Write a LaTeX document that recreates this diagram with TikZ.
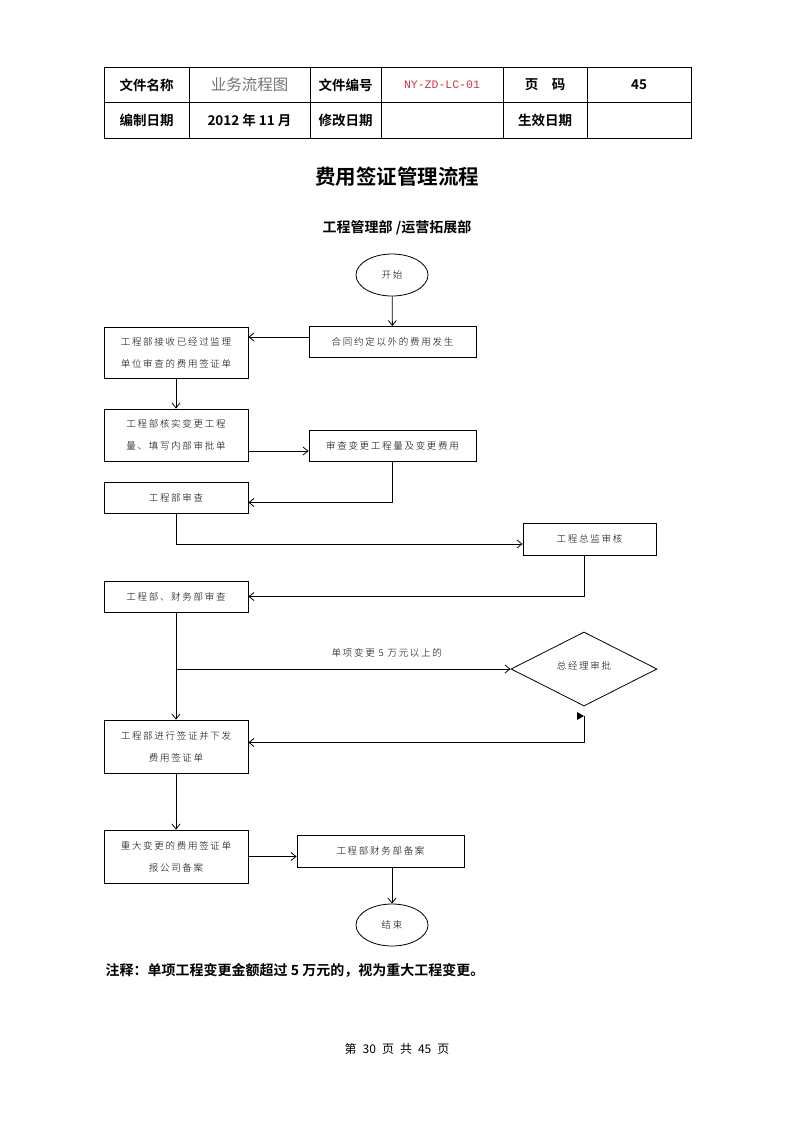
\documentclass[tikz,border=0pt]{standalone}
\usepackage{fontspec}
\setmainfont{Noto Sans CJK SC}[BoldFont={Noto Sans CJK SC Bold}]
\newfontfamily\thin{Noto Sans CJK SC Light}[LetterSpace=18]
\newfontfamily\codefont{Liberation Mono}
\usetikzlibrary{shapes.geometric,arrows.meta}
\definecolor{codered}{RGB}{205,55,65}

\begin{document}
\begin{tikzpicture}[x=1pt,y=-1pt,line width=.8pt,
  box/.style={draw,rectangle,inner sep=0pt,align=center,
    font=\thin\fontsize{9.5}{22}\selectfont},
  lbox/.style={box,minimum width=144pt},
  rbox/.style={box,minimum width=167pt,minimum height=31pt},
  term/.style={draw,ellipse,minimum width=72pt,minimum height=42pt,
    inner sep=0pt,font=\thin\fontsize{9.5}{11}\selectfont},
  hd/.style={font=\bfseries\fontsize{13.5}{14}\selectfont},
  link/.style={-{Straight Barb[length=5pt,width=8pt]}}]
\useasboundingbox (0,0) rectangle (793,1122);

% header table
\draw[line width=1pt] (104,67) rectangle (691,138);
\draw (104,102) -- (691,102);
\foreach \x in {189,310,381,503,587} \draw (\x,67) -- (\x,138);
\node[hd] (h1) at (146.5,85) {文件名称};
\node[text=black!55,font=\fontsize{15.5}{16}\selectfont] (h2) at (249.5,85) {业务流程图};
\node[hd] (h3) at (345.5,85) {文件编号};
\node[text=codered,font=\codefont\fontsize{11.5}{12}\selectfont] (h4) at (442,85) {NY-ZD-LC-01};
\node[hd] (h5) at (545,85) {页\hspace{1em}码};
\node[hd] (h6) at (639,85) {45};
\node[hd] (h7) at (146.5,120) {编制日期};
\node[hd] (h8) at (249.5,120) {2012 年 11 月};
\node[hd] (h9) at (345.5,120) {修改日期};
\node[hd] (h10) at (545,120) {生效日期};

% titles
\node[font=\bfseries\fontsize{20.5}{22}\selectfont] (title) at (397,177) {费用签证管理流程};
\node[font=\bfseries\fontsize{14}{15}\selectfont] (dept) at (397,228) {工程管理部 /运营拓展部};

% flow
\node[term] (start) at (392,275) {开始};
\node[rbox] (hetong) at (392.5,342) {合同约定以外的费用发生};
\node[lbox,minimum height=51pt] (jieshou) at (176,352.5) {工程部接收已经过监理\\单位审查的费用签证单};
\node[lbox,minimum height=52pt] (hexiao) at (176,435) {工程部核实变更工程\\量、填写内部审批单};
\node[rbox] (shencha) at (392.5,446) {审查变更工程量及变更费用};
\node[lbox,minimum height=31pt] (gcsc) at (176,497.5) {工程部审查};
\node[box,minimum width=133pt,minimum height=32pt] (zj) at (589.5,539) {工程总监审核};
\node[lbox,minimum height=31pt] (cw) at (176,596.5) {工程部、财务部审查};
\node[draw,diamond,minimum width=146pt,minimum height=74pt,inner sep=0pt,
  font=\thin\fontsize{9.5}{11}\selectfont] (zjl) at (584,669) {\raisebox{7pt}{总经理审批}};
\node[lbox,minimum height=53pt] (qz) at (176,746.5) {工程部进行签证并下发\\费用签证单};
\node[lbox,minimum height=53pt] (zd) at (176,856.5) {重大变更的费用签证单\\报公司备案};
\node[box,minimum width=167pt,minimum height=32pt] (ba) at (380.5,851) {工程部财务部备案};
\node[term] (end) at (392,925) {结束};
\coordinate (d0) at (584,716);

\draw[link] (start) -- (hetong);
\draw[link] ([yshift=5pt]hetong.west) -- ([yshift=5pt]hetong.west -| jieshou.east);
\draw[link] (jieshou) -- (hexiao);
\draw[link] ([yshift=-5pt]shencha.west -| hexiao.east) -- ([yshift=-5pt]shencha.west);
\draw[link] (shencha.south) |- ([yshift=-5pt]gcsc.east);
\draw[link] (gcsc.south) |- ([yshift=-5pt]zj.west);
\draw[link] ([xshift=-5pt]zj.south) |- (cw.east);
\draw[link] (cw) -- (qz);
\draw[link] (cw.south |- zjl.west) -- node[pos=.63,above=8pt,
  font=\thin\fontsize{9.5}{11}\selectfont] {单项变更 5 万元以上的} (zjl.west);
\fill (577,712) -- (d0) -- (577,720) -- cycle;
\draw[link] (d0) |- ([yshift=4pt]qz.east);
\draw[link] (qz) -- (zd);
\draw[link] (zd.east) -- (zd.east -| ba.west);
\draw[link] (ba.south -| end.north) -- (end.north);

% note and footer
\node[anchor=west,font=\bfseries\fontsize{14}{15}\selectfont] (note) at (102,970)
  {注释：单项工程变更金额超过 5 万元的，视为重大工程变更。};
\node[font=\fontsize{12}{13}\selectfont] (foot) at (397,1049)
  {第\hspace{.5em}30\hspace{.5em}页\hspace{.5em}共\hspace{.5em}45\hspace{.5em}页};
\end{tikzpicture}
\end{document}
